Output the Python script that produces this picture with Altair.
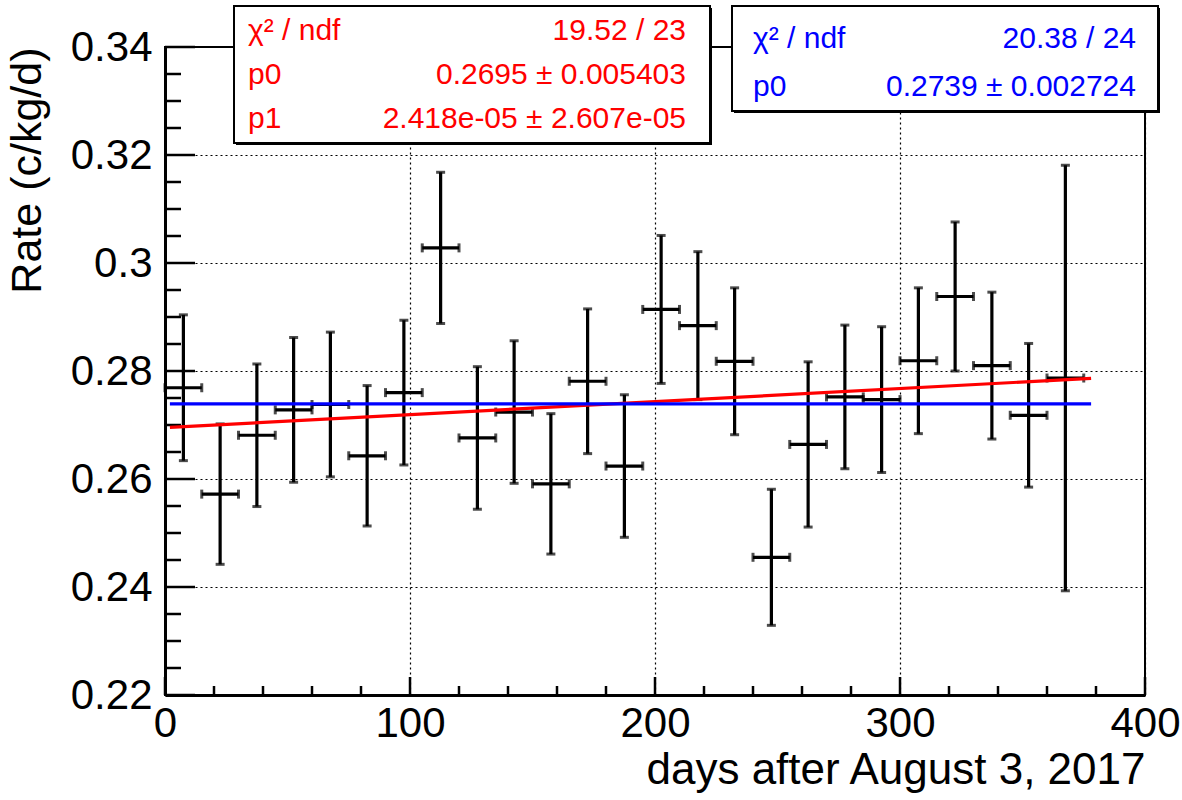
import altair as alt
import pandas as pd

# ---------------- data ----------------
days = [7.5, 22.5, 37.5, 52.5, 67.5, 82.5, 97.5, 112.5, 127.5, 142.5, 157.5, 172.5, 187.5,
        202.5, 217.5, 232.5, 247.5, 262.5, 277.5, 292.5, 307.5, 322.5, 337.5, 352.5, 367.5]
day_err = [7.5] * 25
rates = [0.2769, 0.2572, 0.2681, 0.2728, 0.2738, 0.2643, 0.2760, 0.3028, 0.2676, 0.2724,
         0.2591, 0.2781, 0.2624, 0.2914, 0.2884, 0.2818, 0.2455, 0.2664, 0.2752, 0.2747,
         0.2819, 0.2938, 0.2810, 0.2718, 0.2787]
rate_err = [0.0135, 0.0130, 0.0132, 0.0134, 0.0134, 0.0130, 0.0134, 0.0140, 0.0132, 0.0132,
            0.0130, 0.0134, 0.0132, 0.0137, 0.0137, 0.0136, 0.0126, 0.0153, 0.0133, 0.0135,
            0.0135, 0.0138, 0.0136, 0.0133, 0.0394]

# fit results (from the stat boxes)
lin_p0, lin_p1 = 0.2695, 2.418e-05
const_p0 = 0.2739
fit_range = [2, 378]

red_names = ["χ² / ndf", "p0", "p1"]
red_values = ["19.52 / 23", "0.2695 ± 0.005403", "2.418e-05 ± 2.607e-05"]
blue_names = ["χ² / ndf", "p0"]
blue_values = ["20.38 / 24", "0.2739 ± 0.002724"]

x_major = [0, 100, 200, 300, 400]
x_minor = [20, 40, 60, 80, 120, 140, 160, 180, 220, 240, 260, 280, 320, 340, 360, 380]
y_major = [0.22, 0.24, 0.26, 0.28, 0.30, 0.32, 0.34]
y_minor = [0.225, 0.23, 0.235, 0.245, 0.25, 0.255, 0.265, 0.27, 0.275, 0.285, 0.29, 0.295,
           0.305, 0.31, 0.315, 0.325, 0.33, 0.335]

# ---------------- layout ----------------
FONT = "Liberation Sans"
W, H = 980, 648
PL, PT = 165, 47

df = pd.DataFrame({"day": days, "dx": day_err, "rate": rates, "dr": rate_err})
df["xlo"] = df["day"] - df["dx"]
df["xhi"] = df["day"] + df["dx"]
df["ylo"] = df["rate"] - df["dr"]
df["yhi"] = df["rate"] + df["dr"]

xscale = alt.Scale(domain=[0, 400], nice=False, zero=False)
yscale = alt.Scale(domain=[0.22, 0.34], nice=False, zero=False)

xaxis = alt.Axis(values=x_major, grid=True, gridDash=[2, 3], gridColor="black", gridWidth=1.2,
                 gridOpacity=1, ticks=False, domain=True, domainWidth=3, domainColor="black",
                 labelFont=FONT, labelFontSize=42, labelColor="black", labelPadding=8,
                 labelFlush=False, labelOverlap=False,
                 title="days after August 3, 2017", titleFont=FONT, titleFontSize=44,
                 titleFontWeight="normal", titleColor="black", titleAnchor="end",
                 titleAlign="right", titleBaseline="alphabetic", titleX=W, titleY=88)
yaxis = alt.Axis(values=y_major, format="~g", grid=True, gridDash=[2, 3], gridColor="black",
                 gridWidth=1.2, gridOpacity=1, ticks=False, domain=True, domainWidth=3,
                 domainColor="black", labelFont=FONT, labelFontSize=42, labelColor="black",
                 labelPadding=13, labelFlush=False, labelOverlap=False,
                 title="Rate (c/kg/d)", titleFont=FONT, titleFontSize=43,
                 titleFontWeight="normal", titleColor="black", titleAngle=-90,
                 titleAnchor="end", titleAlign="right", titleBaseline="alphabetic",
                 titleX=-125, titleY=0)


def X(f):
    return alt.X(f, type="quantitative", scale=xscale, axis=xaxis)


def Y(f):
    return alt.Y(f, type="quantitative", scale=yscale, axis=yaxis)


layers = []

# tick marks (inside the frame)
ym = pd.DataFrame({"v": y_major})
yn = pd.DataFrame({"v": y_minor})
xm = pd.DataFrame({"v": x_major})
xn = pd.DataFrame({"v": x_minor})
layers.append(alt.Chart(ym).mark_rule(color="black", strokeWidth=2.5).encode(
    y=Y("v"), x=alt.value(0), x2=alt.value(30)))
layers.append(alt.Chart(yn).mark_rule(color="black", strokeWidth=2.5).encode(
    y=Y("v"), x=alt.value(0), x2=alt.value(16)))
layers.append(alt.Chart(xm).mark_rule(color="black", strokeWidth=2.5).encode(
    x=X("v"), y=alt.value(H), y2=alt.value(H - 18)))
layers.append(alt.Chart(xn).mark_rule(color="black", strokeWidth=2.5).encode(
    x=X("v"), y=alt.value(H), y2=alt.value(H - 9)))

# error bars
pts = alt.Chart(df)
layers.append(pts.mark_rule(color="black", strokeWidth=3.2).encode(
    x=X("day"), y=Y("ylo"), y2="yhi"))
layers.append(pts.mark_rule(color="black", strokeWidth=3.2).encode(
    x=X("xlo"), x2="xhi", y=Y("rate")))
layers.append(pts.mark_tick(color="black", orient="horizontal", size=9, thickness=3).encode(
    x=X("day"), y=Y("ylo")))
layers.append(pts.mark_tick(color="black", orient="horizontal", size=9, thickness=3).encode(
    x=X("day"), y=Y("yhi")))
layers.append(pts.mark_tick(color="black", orient="vertical", size=9, thickness=3).encode(
    x=X("xlo"), y=Y("rate")))
layers.append(pts.mark_tick(color="black", orient="vertical", size=9, thickness=3).encode(
    x=X("xhi"), y=Y("rate")))

# fit lines
red_df = pd.DataFrame({"day": fit_range, "rate": [lin_p0 + lin_p1 * d for d in fit_range]})
blue_df = pd.DataFrame({"day": fit_range, "rate": [const_p0 for d in fit_range]})
layers.append(alt.Chart(red_df).mark_line(color="#ff0000", strokeWidth=3.2).encode(
    x=X("day"), y=Y("rate")))
layers.append(alt.Chart(blue_df).mark_line(color="#0000ff", strokeWidth=3.2).encode(
    x=X("day"), y=Y("rate")))


# stat boxes
def stat_box(x0, y0, x1, y1, names, values, color, rows, tx_l, tx_r):
    one = pd.DataFrame({"k": [0]})
    out = []
    out.append(alt.Chart(one).mark_rect(fill="black").encode(
        x=alt.value(x0 - PL + 2), x2=alt.value(x1 - PL + 2),
        y=alt.value(y0 - PT + 2), y2=alt.value(y1 - PT + 2)))
    out.append(alt.Chart(one).mark_rect(fill="white", stroke="black", strokeWidth=2).encode(
        x=alt.value(x0 - PL), x2=alt.value(x1 - PL),
        y=alt.value(y0 - PT), y2=alt.value(y1 - PT)))
    for i, (n, v) in enumerate(zip(names, values)):
        out.append(alt.Chart(pd.DataFrame({"t": [n]})).mark_text(
            font=FONT, fontSize=30, color=color, align="left", baseline="middle").encode(
            text="t:N", x=alt.value(tx_l - PL), y=alt.value(rows[i] - PT)))
        out.append(alt.Chart(pd.DataFrame({"t": [v]})).mark_text(
            font=FONT, fontSize=30, color=color, align="right", baseline="middle").encode(
            text="t:N", x=alt.value(tx_r - PL), y=alt.value(rows[i] - PT)))
    return out


layers += stat_box(234, 6, 710, 143, red_names, red_values, "#ff0000", [31, 75, 119], 248, 686)
layers += stat_box(732, 6, 1158, 111, blue_names, blue_values, "#0000ff", [39, 87], 753, 1136)

chart = alt.layer(*layers).properties(
    width=W, height=H,
    autosize=alt.AutoSizeParams(type="none"),
    padding={"left": PL, "top": PT, "right": 1182 - PL - W, "bottom": 800 - PT - H},
    background="white",
).configure_view(stroke="black", strokeWidth=2)

chart.save("out.html", embed_options={"renderer": "svg", "actions": False})
